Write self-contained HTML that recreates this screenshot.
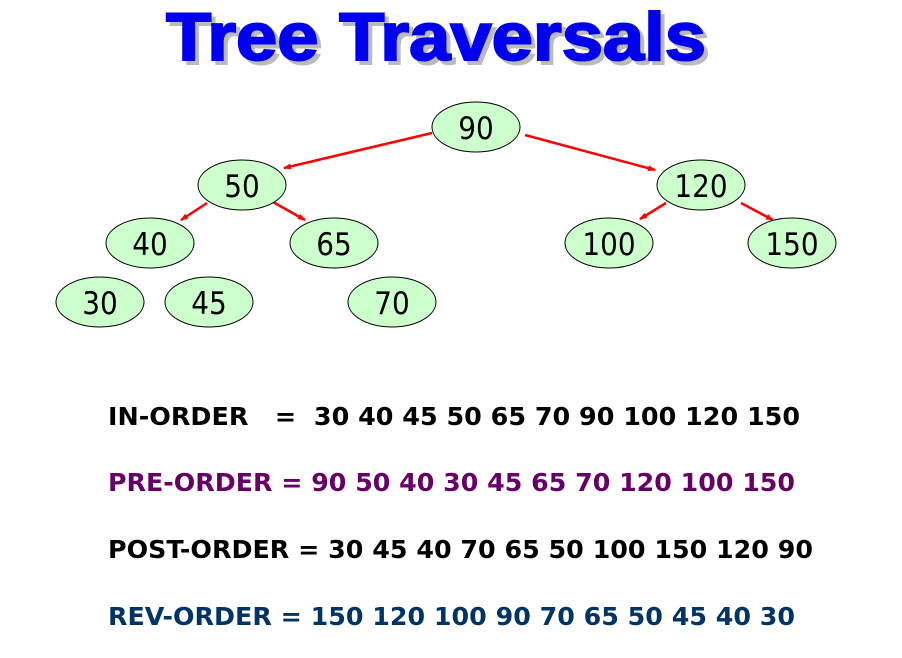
<!DOCTYPE html>
<html><head><style>body{margin:0;background:#fff;width:902px;height:653px;overflow:hidden}</style></head>
<body>
<svg width="902" height="653" xmlns="http://www.w3.org/2000/svg">
<defs><marker id="a" markerWidth="8" markerHeight="8" refX="7" refY="4" orient="auto" markerUnits="userSpaceOnUse"><path d="M0,1 L8,4 L0,7 z" fill="#f00"/></marker></defs>
<g font-family="Liberation Sans, sans-serif" font-weight="bold" font-size="68">
<text x="170" y="64" textLength="540" lengthAdjust="spacingAndGlyphs" fill="#bbb" stroke="#bbb" stroke-width="2">Tree Traversals</text>
<text x="166" y="60" textLength="540" lengthAdjust="spacingAndGlyphs" fill="#0000ee" stroke="#0000ee" stroke-width="2">Tree Traversals</text>
</g>
<g stroke="#f00" stroke-width="2.5" marker-end="url(#a)">
<line x1="432" y1="133" x2="284" y2="168"/>
<line x1="525" y1="135" x2="655" y2="170"/>
<line x1="207" y1="203" x2="181" y2="220"/>
<line x1="273" y1="202" x2="305" y2="220"/>
<line x1="666" y1="203" x2="640" y2="219"/>
<line x1="741" y1="203" x2="773" y2="220"/>
</g>
<g fill="#ccffcc" stroke="#000" stroke-width="1">
<ellipse cx="476" cy="127" rx="44" ry="25"/>
<ellipse cx="242" cy="185" rx="44" ry="25"/>
<ellipse cx="701" cy="185" rx="44" ry="25"/>
<ellipse cx="150" cy="243" rx="44" ry="25"/>
<ellipse cx="334" cy="243" rx="44" ry="25"/>
<ellipse cx="609" cy="243" rx="44" ry="25"/>
<ellipse cx="792" cy="243" rx="44" ry="25"/>
<ellipse cx="100" cy="302" rx="44" ry="25"/>
<ellipse cx="209" cy="302" rx="44" ry="25"/>
<ellipse cx="392" cy="302" rx="44" ry="25"/>
</g>
<g font-family="DejaVu Sans Condensed, Liberation Sans, sans-serif" font-size="31" text-anchor="middle" fill="#000">
<text x="476" y="139">90</text>
<text x="242" y="197">50</text>
<text x="701" y="197">120</text>
<text x="150" y="255">40</text>
<text x="334" y="255">65</text>
<text x="609" y="255">100</text>
<text x="792" y="255">150</text>
<text x="100" y="314">30</text>
<text x="209" y="314">45</text>
<text x="392" y="314">70</text>
</g>
<g font-family="DejaVu Sans, Liberation Sans, sans-serif" font-weight="bold" font-size="25">
<text x="108" y="425" textLength="692" lengthAdjust="spacingAndGlyphs" fill="#000" xml:space="preserve">IN-ORDER   =  30 40 45 50 65 70 90 100 120 150</text>
<text x="108" y="491" textLength="687" lengthAdjust="spacingAndGlyphs" fill="#660066">PRE-ORDER = 90 50 40 30 45 65 70 120 100 150</text>
<text x="108" y="558" textLength="705" lengthAdjust="spacingAndGlyphs" fill="#000">POST-ORDER = 30 45 40 70 65 50 100 150 120 90</text>
<text x="108" y="625" textLength="687" lengthAdjust="spacingAndGlyphs" fill="#003366">REV-ORDER = 150 120 100 90 70 65 50 45 40 30</text>
</g>
</svg>
</body></html>
